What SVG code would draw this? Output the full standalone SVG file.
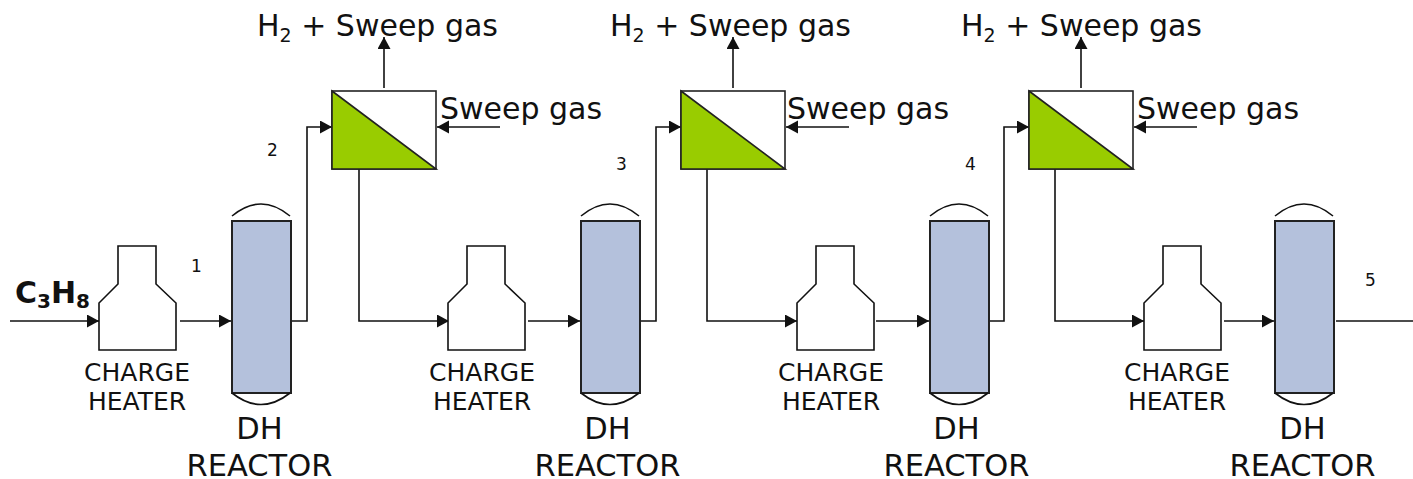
<svg xmlns="http://www.w3.org/2000/svg" xmlns:xlink="http://www.w3.org/1999/xlink" width="1413" height="479" viewBox="0 0 1413 479">
<style>
text{font-family:"DejaVu Sans",Verdana,sans-serif;fill:#111}
.lg{font-size:30px}.rt{font-size:30.5px}.md{font-size:25px}.sm{font-size:17px}
.sub{font-size:19px}
.m{text-anchor:middle}
.ln{fill:none;stroke:#111;stroke-width:1.6}
.ar{fill:none;stroke:#111;stroke-width:1.6;marker-end:url(#a)}
.htr{fill:#fff;stroke:#111;stroke-width:1.6}
.rx{fill:#b4c1dc;stroke:#222;stroke-width:2}
.mb{fill:#fff;stroke:#222;stroke-width:1.6}
.tri{fill:#99cc00;stroke:#222;stroke-width:1.6}
</style>
<defs>
<marker id="a" markerUnits="userSpaceOnUse" markerWidth="13" markerHeight="14" refX="12" refY="6.5" orient="auto"><path d="M0 0L12 6.5L0 13Z" fill="#111"/></marker>
<g id="heater"><path class="htr" d="M99 350V303L118 284V246H156V284L176 303V350Z"/></g>
<g id="heaterText"><text class="md m" x="137" y="381">CHARGE</text><text class="md m" x="137" y="410">HEATER</text></g>
<g id="reactor"><rect class="rx" x="232" y="221" width="59" height="172"/><path class="ln" d="M232 216Q261 192 290 216M232 393Q261 416 290 393"/></g>
<g id="reactorText"><text class="rt m" x="259.500" y="439">DH</text><text class="rt m" x="259.500" y="476">REACTOR</text></g>
<g id="membrane"><rect class="mb" x="332" y="91" width="104" height="78"/><path class="tri" d="M332 91L436 169H332Z"/></g>
<text id="sweep" class="lg" x="440" y="119">Sweep gas</text>
<text id="prod" class="lg" x="257" y="36">H<tspan class="sub" dy="6">2</tspan><tspan dy="-6"> + Sweep gas</tspan></text>
</defs>
<g id="connectors">
<path class="ar" d="M10 321H99"/>
<path class="ar" d="M180 321H231"/>
<path class="ar" d="M291 321H307V127H332"/>
<path class="ar" d="M384 88V37"/>
<path class="ar" d="M500 127H437"/>
<path class="ar" d="M359 169V321H449"/>
<path class="ar" d="M528 321H580"/>
<path class="ar" d="M640 321H656V127H681"/>
<path class="ar" d="M733 88V37"/>
<path class="ar" d="M849 127H786"/>
<path class="ar" d="M707 169V321H797"/>
<path class="ar" d="M876 321H929"/>
<path class="ar" d="M988 321H1004V127H1029"/>
<path class="ar" d="M1081 88V37"/>
<path class="ar" d="M1197 127H1134"/>
<path class="ar" d="M1055 169V321H1144"/>
<path class="ar" d="M1224 321H1274"/>
<path class="ln" d="M1336 321H1413"/>
</g>
<g id="heater1"><use xlink:href="#heater"/><use xlink:href="#heaterText"/></g>
<g id="reactor1"><use xlink:href="#reactor"/><use xlink:href="#reactorText"/></g>
<g id="membrane1"><use xlink:href="#membrane"/><use xlink:href="#sweep"/><use xlink:href="#prod"/></g>
<g id="heater2"><use xlink:href="#heater" x="349"/><use xlink:href="#heaterText" x="345"/></g>
<g id="reactor2"><use xlink:href="#reactor" x="349"/><use xlink:href="#reactorText" x="348"/></g>
<g id="membrane2"><use xlink:href="#membrane" x="349"/><use xlink:href="#sweep" x="347"/><use xlink:href="#prod" x="353"/></g>
<g id="heater3"><use xlink:href="#heater" x="698"/><use xlink:href="#heaterText" x="694"/></g>
<g id="reactor3"><use xlink:href="#reactor" x="698"/><use xlink:href="#reactorText" x="697"/></g>
<g id="membrane3"><use xlink:href="#membrane" x="697"/><use xlink:href="#sweep" x="697"/><use xlink:href="#prod" x="704"/></g>
<g id="heater4"><use xlink:href="#heater" x="1045"/><use xlink:href="#heaterText" x="1040"/></g>
<g id="reactor4"><use xlink:href="#reactor" x="1043"/><use xlink:href="#reactorText" x="1043"/></g>
<text x="15" y="303" font-size="30" font-weight="bold">C<tspan font-size="20" dy="5">3</tspan><tspan dy="-5">H</tspan><tspan font-size="20" dy="5">8</tspan></text>
<text class="sm" x="191" y="272">1</text>
<text class="sm" x="267" y="156">2</text>
<text class="sm" x="616" y="170">3</text>
<text class="sm" x="965" y="170">4</text>
<text class="sm" x="1365" y="286">5</text>
</svg>
